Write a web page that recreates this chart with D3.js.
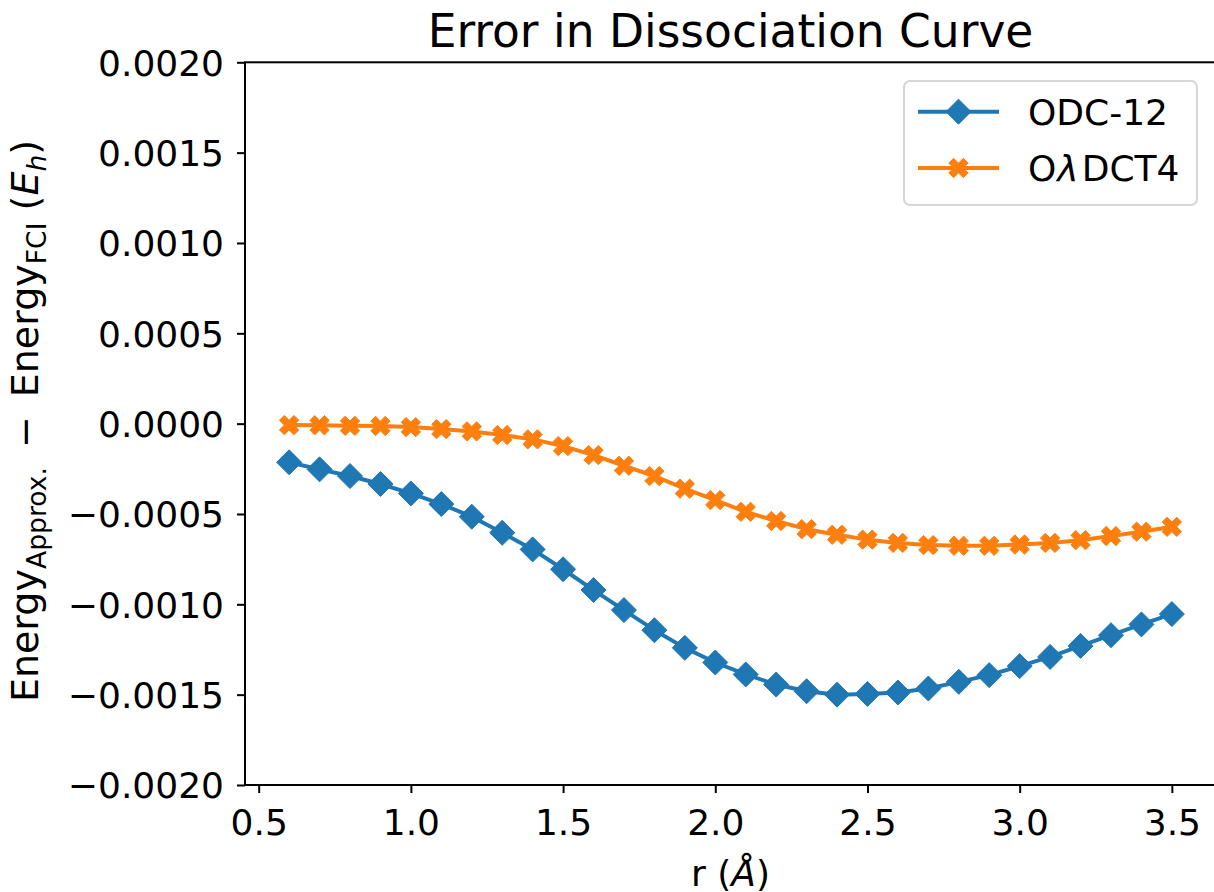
<!DOCTYPE html>
<html><head><meta charset="utf-8">
<script src="https://cdn.jsdelivr.net/npm/d3@7/dist/d3.min.js"></script>
<style>
body{margin:0;background:#fff}
svg{display:block}
text{font-family:"DejaVu Sans",sans-serif;fill:#000}
</style>
</head><body>
<svg id="c" width="1214" height="892"></svg>
<script>
// ---- data ----
const rValues = [0.6,0.7,0.8,0.9,1.0,1.1,1.2,1.3,1.4,1.5,1.6,1.7,1.8,1.9,2.0,2.1,2.2,2.3,2.4,2.5,2.6,2.7,2.8,2.9,3.0,3.1,3.2,3.3,3.4,3.5];
const odc12 = [-0.000214,-0.000253,-0.000290,-0.000334,-0.000386,-0.000445,-0.000515,-0.000604,-0.000696,-0.000806,
               -0.000921,-0.001032,-0.001143,-0.001241,-0.001322,-0.001388,-0.001444,-0.001481,-0.001500,-0.001496,
               -0.001488,-0.001466,-0.001429,-0.001392,-0.001342,-0.001291,-0.001230,-0.001171,-0.001111,-0.001054];
const olDCT4 = [-0.000008,-0.000009,-0.000012,-0.000013,-0.000019,-0.000030,-0.000043,-0.000063,-0.000087,-0.000124,
                -0.000174,-0.000233,-0.000290,-0.000360,-0.000423,-0.000488,-0.000539,-0.000584,-0.000615,-0.000642,
                -0.000660,-0.000672,-0.000676,-0.000676,-0.000669,-0.000660,-0.000645,-0.000622,-0.000598,-0.000571];
const seriesNames = [["ODC-12"],["O","\u03BB","DCT4"]];
const seriesColors = ["#1f77b4","#ff7f0e"];
const xTicks = [0.5,1.0,1.5,2.0,2.5,3.0,3.5];
const yTicks = [-0.002,-0.0015,-0.001,-0.0005,0,0.0005,0.001,0.0015,0.002];
const xDomain = [0.455,3.645];
const yDomain = [-0.002,0.002];
const titleText = "Error in Dissociation Curve";

// ---- layout ----
const L = 245, R = 1216, T = 62.3, B = 785;
const svg = d3.select("#c");
const x = d3.scaleLinear().domain(xDomain).range([L,R]);
const y = d3.scaleLinear().domain(yDomain).range([B,T]);

// title
svg.append("text").attr("x",(L+R)/2).attr("y",46.5).attr("text-anchor","middle")
  .style("font-size","45.5px").text(titleText);

// lines & markers
const lineGen = d3.line().x(d=>x(d[0])).y(d=>y(d[1]));
const diamond = "M0,-12.5L12.5,0L0,12.5L-12.5,0Z";
function xPath(s){
  const p=[[-1,-3],[1,-3],[1,-1],[3,-1],[3,1],[1,1],[1,3],[-1,3],[-1,1],[-3,1],[-3,-1],[-1,-1]];
  const c=Math.SQRT1_2;
  return "M"+p.map(([a,b])=>{a=a/6*s;b=b/6*s;return [(a*c-b*c).toFixed(2),(a*c+b*c).toFixed(2)].join(",");}).join("L")+"Z";
}
const xMarker = xPath(20.5);
const markers = [diamond, xMarker];
const allSeries = [odc12, olDCT4];

const plot = svg.append("g");
allSeries.forEach((vals,i)=>{
  const pts = rValues.map((r,j)=>[r,vals[j]]);
  plot.append("path").attr("d",lineGen(pts)).attr("fill","none")
    .attr("stroke",seriesColors[i]).attr("stroke-width",4).attr("stroke-linejoin","round");
  plot.selectAll(null).data(pts).enter().append("path")
    .attr("d",markers[i]).attr("transform",d=>`translate(${x(d[0])},${y(d[1])})`)
    .attr("fill",seriesColors[i]).attr("stroke",seriesColors[i]).attr("stroke-width",1);
});

// frame
svg.append("rect").attr("x",L).attr("y",T).attr("width",R-L).attr("height",B-T)
  .attr("fill","none").attr("stroke","#000").attr("stroke-width",2);

// axes
const fmtY = d => (d<0?"\u2212":"") + Math.abs(d).toFixed(4);
const yAxis = svg.append("g").attr("transform",`translate(${L},0)`)
  .call(d3.axisLeft(y).tickValues(yTicks).tickFormat(fmtY).tickSize(8).tickPadding(13));
const xAxis = svg.append("g").attr("transform",`translate(0,${B})`)
  .call(d3.axisBottom(x).tickValues(xTicks).tickFormat(d=>d.toFixed(1)).tickSize(8).tickPadding(13));
[yAxis,xAxis].forEach(g=>{
  g.select(".domain").remove();
  g.selectAll(".tick line").attr("stroke","#000").attr("stroke-width",2);
  g.selectAll(".tick text").attr("fill","#000").style("font-size","36px").style("font-family","'DejaVu Sans',sans-serif");
});
yAxis.selectAll(".tick text").attr("dy","0.36em");
xAxis.selectAll(".tick text").attr("y",50).attr("dy",0);

// x label
const xl = svg.append("text").attr("x",(L+R)/2).attr("y",886).attr("text-anchor","middle").style("font-size","36px");
xl.append("tspan").text("r (");
xl.append("tspan").style("font-style","italic").text("\u00C5");
xl.append("tspan").text(")");

// y label
const yl = svg.append("text").attr("transform",`translate(38,421) rotate(-90)`)
  .attr("text-anchor","middle").style("font-size","38px");
yl.append("tspan").text("Energy");
yl.append("tspan").attr("dy",8).style("font-size","26.6px").text("Approx.");
yl.append("tspan").attr("dy",-8).text("\u2002\u2212\u2002Energy");
yl.append("tspan").attr("dy",8).style("font-size","26.6px").text("FCI");
yl.append("tspan").attr("dy",-8).text(" (");
yl.append("tspan").style("font-style","italic").text("E");
yl.append("tspan").attr("dy",8).style("font-size","26.6px").style("font-style","italic").text("h");
yl.append("tspan").attr("dy",-8).text(")");

// legend
const lg = svg.append("g");
lg.append("rect").attr("x",904).attr("y",81).attr("width",293).attr("height",124).attr("rx",6)
  .attr("fill","#fff").attr("fill-opacity",0.8).attr("stroke","#d6d6d6").attr("stroke-width",2);
seriesNames.forEach((parts,i)=>{
  const cy = [111.7,168][i];
  lg.append("line").attr("x1",918).attr("x2",999).attr("y1",cy).attr("y2",cy)
    .attr("stroke",seriesColors[i]).attr("stroke-width",4);
  lg.append("path").attr("d",markers[i]).attr("transform",`translate(958.5,${cy})`)
    .attr("fill",seriesColors[i]).attr("stroke",seriesColors[i]).attr("stroke-width",1);
  const t = lg.append("text").attr("x",1028).attr("y",cy+13.2).style("font-size","36px");
  parts.forEach(p=>{
    const s = t.append("tspan").text(p);
    if(p==="\u03BB") s.style("font-style","italic").attr("dx",1);
    if(p==="DCT4") s.attr("dx",3);
  });
});
</script>
</body></html>
